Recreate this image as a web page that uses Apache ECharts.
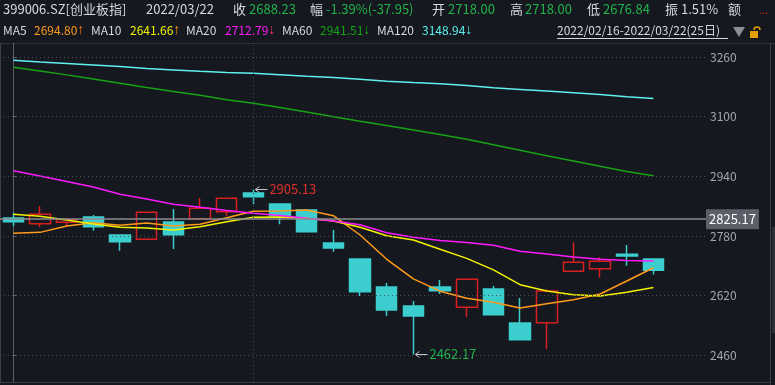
<!DOCTYPE html>
<html><head><meta charset="utf-8">
<script src="https://cdn.jsdelivr.net/npm/echarts@6/dist/echarts.min.js"></script>
<style>html,body{margin:0;padding:0;background:#15181e;overflow:hidden}#c{width:775px;height:385px}</style>
</head><body><div id="c"></div>
<script>
const dates = ['2022-02-16','2022-02-17','2022-02-18','2022-02-21','2022-02-22','2022-02-23','2022-02-24','2022-02-25','2022-02-28',
  '2022-03-01','2022-03-02','2022-03-03','2022-03-04','2022-03-07','2022-03-08','2022-03-09','2022-03-10','2022-03-11',
  '2022-03-14','2022-03-15','2022-03-16','2022-03-17','2022-03-18','2022-03-21','2022-03-22'];
const openP  = [2828.2,2812.9,2817.0,2830.9,2782.6,2771.1,2817.5,2826.3,2845.1,2895.2,2865.8,2849.7,2761.2,2718.2,2643.1,2592.2,2643.1,2588.7,2637.8,2546.6,2547.4,2685.2,2692.2,2731.0,2718.00];
const closeP = [2818.3,2838.1,2824.5,2804.9,2764.8,2843.5,2783.4,2854.2,2881.0,2885.4,2834.4,2791.5,2747.7,2630.5,2581.5,2565.4,2633.2,2663.8,2568.9,2501.8,2632.4,2709.4,2712.0,2726.18,2688.23];
const lowP   = [2806.7,2804.0,2804.0,2794.1,2740.6,2771.1,2745.0,2826.3,2834.4,2865.8,2811.3,2789.0,2737.8,2619.0,2565.4,2462.17,2624.3,2563.5,2568.0,2501.8,2477.7,2685.2,2668.1,2700.3,2676.84];
const highP  = [2841.6,2860.4,2828.2,2836.2,2783.0,2843.5,2852.3,2881.8,2881.0,2905.13,2866.0,2852.3,2796.0,2718.2,2653.9,2605.6,2661.9,2666.5,2645.8,2613.6,2637.0,2763.0,2722.8,2755.8,2718.00];
const ma5   = [2787.2,2789.7,2806.8,2815.6,2808.6,2814.8,2806.8,2811.3,2829.0,2846.2,2847.0,2849.7,2834.4,2782.6,2717.4,2665.0,2632.0,2612.8,2602.0,2586.8,2598.3,2609.0,2624.4,2659.3,2694.80];
const ma10  = [2838.2,2832.8,2822.8,2812.0,2803.3,2801.5,2796.0,2805.0,2818.4,2830.1,2830.9,2827.4,2820.1,2803.3,2780.8,2769.0,2744.3,2720.0,2689.0,2649.3,2632.4,2622.4,2619.0,2629.0,2641.66];
const ma20  = [2955.0,2940.8,2926.0,2911.3,2891.8,2879.2,2865.0,2857.2,2848.3,2840.8,2834.9,2827.4,2820.1,2810.2,2788.7,2776.4,2767.8,2762.2,2755.0,2738.9,2731.4,2723.6,2717.4,2714.2,2712.79];
const ma60  = [3232.4,3222.7,3212.0,3201.0,3189.7,3178.2,3167.7,3157.3,3145.2,3135.8,3124.3,3112.2,3099.9,3087.8,3076.0,3064.2,3051.9,3039.5,3024.4,3009.7,2995.2,2981.0,2966.8,2952.8,2941.51];
const ma120 = [3251.1,3246.6,3242.6,3238.8,3234.3,3228.9,3225.1,3221.6,3218.7,3216.3,3212.5,3208.5,3204.7,3200.5,3195.1,3191.3,3188.4,3183.3,3177.6,3173.1,3168.5,3163.9,3159.2,3153.6,3148.94];
const maDir = ['↑','↑','↓','↓','↓'];
const yTicks = [2460, 2620, 2780, 2940, 3100, 3260];
const refPrice = 2825.17;
const monthStartIndex = 9;

const RED = '#d81e1e', CYAN = '#3ccdce', GREEN = '#22b24a', TXT = '#d4d8e0';
const FONT = '"Noto Sans CJK SC","Microsoft YaHei",sans-serif';
const n = dates.length;
const last = n - 1;
const prevClose = closeP[last - 1];
const chg = closeP[last] - prevClose;
const pct = chg / prevClose * 100;
const amp = (highP[last] - lowP[last]) / prevClose * 100;

let hiIdx = 0, loIdx = 0;
for (let i = 0; i < n; i++) { if (highP[i] > highP[hiIdx]) hiIdx = i; if (lowP[i] < lowP[loIdx]) loIdx = i; }

function t(x, y, text, color, size) {
  return { type: 'text', left: x, top: y, style: { text: text, fill: color, font: (size || 13) + 'px ' + FONT } };
}
const g = [];
// header row 1
g.push(t(3, 3, '399006.SZ[创业板指]', TXT));
g.push(t(146, 3, dates[last].replace(/-/g, '/'), TXT));
g.push(t(233, 3, '收', TXT)); g.push(t(249, 3, closeP[last].toFixed(2), GREEN));
g.push(t(310, 3, '幅', TXT)); g.push(t(326, 3, pct.toFixed(2) + '%(' + chg.toFixed(2) + ')', GREEN));
g.push(t(432, 3, '开', TXT)); g.push(t(448, 3, openP[last].toFixed(2), GREEN));
g.push(t(510, 3, '高', TXT)); g.push(t(525, 3, highP[last].toFixed(2), GREEN));
g.push(t(587, 3, '低', TXT)); g.push(t(603, 3, lowP[last].toFixed(2), GREEN));
g.push(t(665, 3, '振', TXT)); g.push(t(681, 3, amp.toFixed(2) + '%', TXT));
g.push(t(728, 3, '额', TXT));
g.push(t(759, 4, '...', '#e02020', 11));
// header row 2 (MA legend)
const maNames = ['MA5','MA10','MA20','MA60','MA120'];
const maArrs = [ma5, ma10, ma20, ma60, ma120];
const maColors = ['#ff9a1a','#f2f200','#ff1aff','#16a316','#5ff0f0'];
const arrowColors = ['#ff7a1a','#ff9a1a','#ff3060','#16a316','#5ff0f0'];
const maNameX = [3, 91, 186, 282, 377];
const maValX = [34, 130, 225, 320, 422];
const AFONT = '14px "Liberation Sans","DejaVu Sans",sans-serif';
for (let k = 0; k < 5; k++) {
  g.push(t(maNameX[k], 24, maNames[k], TXT, 12));
  g.push({ type: 'text', left: maValX[k], top: 23, style: {
    text: '{v|' + maArrs[k][last].toFixed(2) + '}{a|' + maDir[k] + '}',
    font: '12px ' + FONT,
    rich: { v: { fill: maColors[k], font: '12px ' + FONT }, a: { fill: arrowColors[k], font: AFONT } } } });
}
g.push(t(557, 24, dates[0].replace(/-/g, '/') + '-' + dates[last].replace(/-/g, '/') + '(' + n + '日)', TXT, 12));
g.push({ type: 'line', shape: { x1: 557, y1: 38.5, x2: 728, y2: 38.5 }, style: { stroke: TXT, lineWidth: 1 } });
g.push({ type: 'polygon', shape: { points: [[733, 27], [745, 27], [739, 37]] }, style: { fill: '#8a8d95' } });
g.push({ type: 'rect', shape: { x: 750, y: 31, width: 8, height: 7 }, style: { fill: '#e0a000' } });
g.push({ type: 'arc', shape: { cx: 757, cy: 30, r: 3, startAngle: Math.PI, endAngle: 2 * Math.PI }, style: { stroke: '#e0a000', fill: null, lineWidth: 1.5 } });
// frame
g.push({ type: 'line', shape: { x1: 0, y1: 43.5, x2: 775, y2: 43.5 }, style: { stroke: '#2f3239', lineWidth: 1 } });
g.push({ type: 'line', shape: { x1: 0.5, y1: 43, x2: 0.5, y2: 383 }, style: { stroke: '#3a3d44', lineWidth: 1 } });
g.push({ type: 'line', shape: { x1: 0, y1: 382.5, x2: 771, y2: 382.5 }, style: { stroke: '#3a3d44', lineWidth: 1 } });
g.push({ type: 'line', shape: { x1: 770.5, y1: 43, x2: 770.5, y2: 385 }, style: { stroke: '#3a3d44', lineWidth: 1 } });
g.push({ type: 'rect', shape: { x: 772, y: 227, width: 3, height: 106 }, style: { fill: '#2a2d33' } });

const dotted = { color: '#4a4e57', type: [1, 3], width: 1 };
const gridMarks = yTicks.map(v => ({ yAxis: v, lineStyle: dotted }));
gridMarks.push({ xAxis: monthStartIndex, lineStyle: dotted });

const option = {
  backgroundColor: '#15181e',
  animation: false,
  graphic: g,
  grid: { left: 0, right: 69, top: 43, bottom: 3, containLabel: false },
  xAxis: { type: 'value', min: -0.5, max: 25.97, show: false, splitLine: { show: false } },
  yAxis: {
    type: 'value', position: 'right', min: 2388.4, max: 3297.5, scale: true,
    axisLine: { show: true, lineStyle: { color: '#5d6068', width: 1 } },
    axisTick: { show: true, length: 3, customValues: yTicks, lineStyle: { color: '#5d6068' } },
    axisLabel: { show: true, customValues: yTicks, color: '#a3a7b0', fontSize: 12, margin: 4, fontFamily: FONT,
      formatter: v => String(v) },
    splitLine: { show: false }
  },
  series: [
    {
      type: 'candlestick',
      data: dates.map((d, i) => [i, openP[i], closeP[i], lowP[i], highP[i]]),
      encode: { x: 0, y: [1, 2, 3, 4] },
      barWidth: 21,
      itemStyle: { color: '#15181e', color0: CYAN, borderColor: RED, borderColor0: CYAN, borderWidth: 1.5 },
      markLine: {
        silent: true, symbol: ['none', 'none'], animation: false,
        label: { show: false },
        data: gridMarks.concat([{ yAxis: refPrice, lineStyle: { color: '#8a8b8f', type: 'solid', width: 1.5 },
          label: { show: true, position: 'end', distance: 0, formatter: refPrice.toFixed(2), color: '#ffffff',
            backgroundColor: '#5c5e69', padding: [4, 3, 3, 3], fontSize: 13, fontFamily: FONT } }])
      },
      z: 3
    },
    ...maArrs.map((arr, k) => ({
      type: 'line', name: maNames[k], data: arr.map((v, i) => [i, v]), showSymbol: false, symbol: 'none',
      lineStyle: { color: maColors[k], width: 1.5 }, z: 4, silent: true
    })),
    {
      type: 'custom', z: 6, silent: true,
      data: [[hiIdx, highP[hiIdx], 0], [loIdx, lowP[loIdx], 1]],
      renderItem: function (params, api) {
        const p = api.coord([api.value(0), api.value(1)]);
        const isLow = api.value(2) === 1;
        const x0 = p[0] + 2, x1 = p[0] + 14, y = Math.round(p[1]) + 0.5;
        const col = isLow ? GREEN : '#e0302a';
        return { type: 'group', children: [
          { type: 'line', shape: { x1: x0, y1: y, x2: x1, y2: y }, style: { stroke: '#c8c8cc', lineWidth: 1 } },
          { type: 'polyline', shape: { points: [[x0 + 4, y - 3], [x0, y], [x0 + 4, y + 3]] }, style: { stroke: '#c8c8cc', lineWidth: 1, fill: null } },
          { type: 'text', x: x1 + 2, y: y, style: { text: (isLow ? lowP[loIdx] : highP[hiIdx]).toFixed(2), fill: col,
            font: '13px ' + FONT, verticalAlign: 'middle', align: 'left' } }
        ] };
      }
    }
  ]
};
const chart = echarts.init(document.getElementById('c'), null, { renderer: 'canvas' });
chart.setOption(option);
</script></body></html>
